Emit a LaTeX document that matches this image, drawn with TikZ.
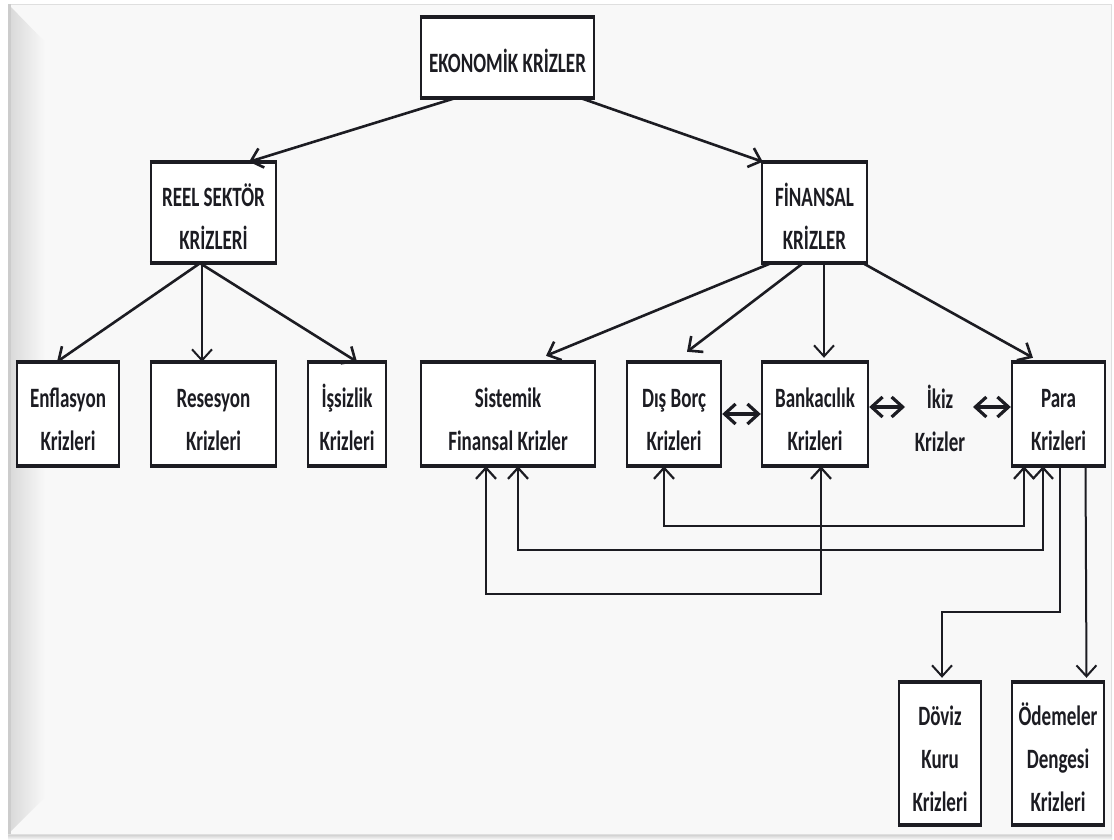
\documentclass[tikz,border=0pt]{standalone}
\usepackage{fontspec}
\setmainfont{Carlito}[FakeStretch=0.68]
\usetikzlibrary{arrows.meta,calc}
\definecolor{cardbg}{RGB}{248,248,248}
\definecolor{ink}{RGB}{28,28,34}
\newcommand\toppad{\rule{0pt}{15.5pt}}
\tikzset{
  box/.style={draw=ink, fill=white, line width=1.2pt, inner sep=0pt, align=center, text=ink,
    font=\bfseries\fontsize{14}{21.5}\selectfont},
  lbl/.style={inner sep=0pt, align=center, text=ink, font=\bfseries\fontsize{14}{21.5}\selectfont},
  boxedge/.style={draw=ink, line width=2pt},
  arr/.style={draw=ink, line width=1.3pt, -{Straight Barb[length=5.5pt,width=10pt]}},
  thinarr/.style={draw=ink, line width=1pt, -{Straight Barb[length=5.5pt,width=10pt]}},
  dbl/.style={draw=ink, line width=1.1pt, {Straight Barb[length=5.5pt,width=10pt]}-{Straight Barb[length=5.5pt,width=10pt]}},
  hdbl/.style={draw=ink, line width=1.6pt, {Straight Barb[length=5.5pt,width=10pt]}-{Straight Barb[length=5.5pt,width=10pt]}}
}
\begin{document}
\begin{tikzpicture}[x=0.5pt,y=-0.5pt]
% background and card
\fill[white] (0,0) rectangle (1114,840);
\useasboundingbox (0,0) rectangle (1114,840);
\shade[top color=gray!55, bottom color=white] (8,832) rectangle (1112,840);
\fill[cardbg] (8,4) rectangle (1111,834);
\draw[gray!25, line width=0.4pt] (8,4) rectangle (1111,834);
\shade[left color=gray!30, right color=cardbg] (9,5) -- (45,42) -- (45,797) -- (9,833) -- cycle;
\fill[gray!40] (8,4) rectangle (11,834);

% boxes
\node[box, minimum width=86.5pt, minimum height=39.5pt] (eko) at (507.5,57.5) {\toppad EKONOMİK KRİZLER};
\node[box, minimum width=62.5pt, minimum height=49.5pt] (reel) at (213.5,212.5) {\toppad REEL SEKTÖR\\KRİZLERİ};
\node[box, minimum width=52.5pt, minimum height=49.5pt] (fin) at (814.5,212.5) {\toppad FİNANSAL\\KRİZLER};
\node[box, minimum width=51pt, minimum height=51pt] (enf) at (68,414) {\toppad Enflasyon\\Krizleri};
\node[box, minimum width=62.5pt, minimum height=51pt] (res) at (213.5,414) {\toppad Resesyon\\Krizleri};
\node[box, minimum width=39pt, minimum height=51pt] (iss) at (347,414) {\toppad İşsizlik\\Krizleri};
\node[box, minimum width=87pt, minimum height=51pt] (sis) at (508,414) {\toppad Sistemik\\Finansal Krizler};
\node[box, minimum width=47pt, minimum height=51pt] (dis) at (674,414) {\toppad Dış Borç\\Krizleri};
\node[box, minimum width=53pt, minimum height=51pt] (ban) at (815,414) {\toppad Bankacılık\\Krizleri};
\node[lbl] (ikiz) at (940,418) {İkiz\\Krizler};
\node[box, minimum width=46.5pt, minimum height=51pt] (para) at (1058.5,414) {\toppad Para\\Krizleri};
\node[box, minimum width=41pt, minimum height=70.5pt] (dov) at (940,753.5) {\toppad Döviz\\Kuru\\Krizleri};
\node[box, minimum width=46pt, minimum height=70.5pt] (ode) at (1058,753.5) {\toppad Ödemeler\\Dengesi\\Krizleri};

\foreach \n in {eko,reel,fin,enf,res,iss,sis,dis,ban,para,dov,ode}{
  \draw[boxedge] (\n.north west) -- (\n.north east);
  \draw[boxedge] (\n.south west) -- (\n.south east);
}

% top level
\draw[arr] ($(eko.south)+(-52.5,0)$) -- ($(reel.north)+(35.5,0)$);
\draw[arr] ($(eko.south)+(73.5,0)$) -- ($(fin.north west)+(2,0)$);

% real sector
\draw[arr] ($(reel.south)+(-13.5,0)$) -- ($(enf.north)+(-11,0)$);
\draw[thinarr] ($(reel.south)+(-11.5,0)$) -- ($(res.north)+(-11.5,0)$);
\draw[arr] ($(reel.south)+(-13.5,0)$) -- ($(iss.north)+(10,0)$);

% financial
\draw[arr] ($(fin.south)+(-43.5,0)$) -- ($(sis.north)+(38,-6)$);
\draw[arr] ($(fin.south)+(-11.5,0)$) -- ($(dis.north)+(13,-10)$);
\draw[thinarr] ($(fin.south)+(9.5,0)$) -- ($(ban.north)+(9,-4)$);
\draw[arr] ($(fin.south)+(48.5,0)$) -- ($(para.north)+(-25.5,-4)$);

% horizontal links
\draw[hdbl] (dis.east) -- (ban.west);
\draw[hdbl] ($(ban.east)+(0,-7)$) -- ($(ikiz.center)+(-35,-11)$);
\draw[hdbl] ($(ikiz.center)+(33,-11)$) -- ($(para.west)+(0,-7)$);

% bottom loops
\draw[dbl] ($(dis.south)+(-10,0)$) -- ++(0,60) -| ($(para.south)+(-34.5,0)$);
\draw[dbl] ($(sis.south)+(10,0)$) -- ++(0,84) -| ($(para.south)+(-15.5,0)$);
\draw[dbl] ($(sis.south)+(-22,0)$) -- ++(0,128) -| ($(ban.south)+(6,0)$);

% para to sub crises
\draw[thinarr] ($(para.south)+(1.5,0)$) -- ++(0,146) -| ($(dov.north)+(2,-4)$);
\draw[thinarr] ($(para.south)+(27,0)$) -- ($(ode.north)+(28.5,-4)$);
\end{tikzpicture}
\end{document}
